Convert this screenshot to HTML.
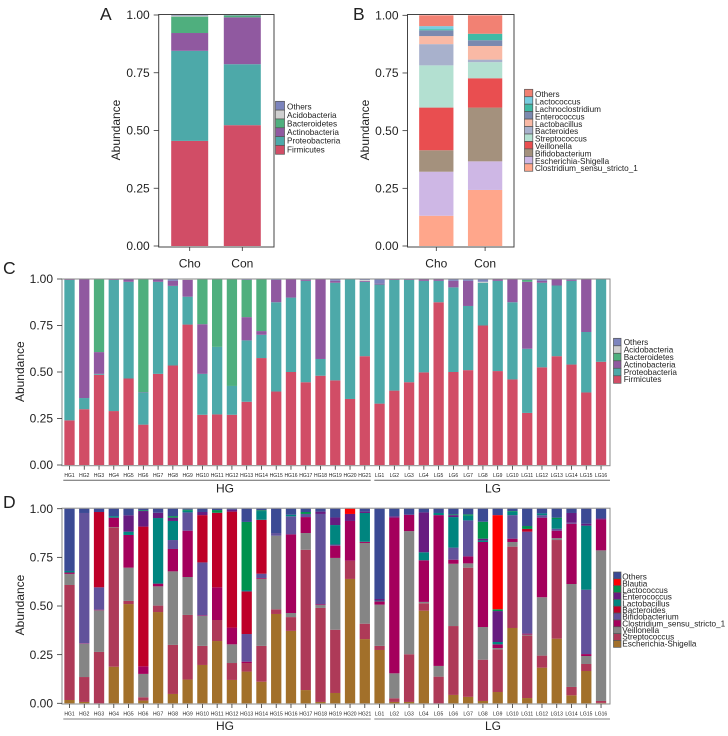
<!DOCTYPE html>
<html lang="en">
<head>
<meta charset="utf-8">
<title>Microbiota relative abundance stacked bars</title>
<style>
html,body{margin:0;padding:0;background:#fff;width:728px;height:736px;overflow:hidden}
svg{display:block}
text{font-family:"Liberation Sans",Arial,sans-serif;fill:#222}
</style>
</head>
<body>
<svg id="figure" xmlns="http://www.w3.org/2000/svg" width="728" height="736" viewBox="0 0 728 736"></svg>
<script>
/* ---------- Panel A data ---------- */
const groupsA = ["Cho", "Con"];
const phylumNamesA = ["Firmicutes", "Proteobacteria", "Actinobacteria", "Bacteroidetes", "Acidobacteria", "Others"];
const firmicutesA = [0.455, 0.523];
const proteobacteriaA = [0.390, 0.264];
const actinobacteriaA = [0.077, 0.203];
const bacteroidetesA = [0.071, 0.008];
const acidobacteriaA = [0.005, 0.001];
const othersA = [0.002, 0.001];

/* ---------- Panel B data ---------- */
const groupsB = ["Cho", "Con"];
const genusNamesB = ["Clostridium_sensu_stricto_1", "Escherichia-Shigella", "Bifidobacterium", "Veillonella", "Streptococcus", "Bacteroides", "Lactobacillus", "Enterococcus", "Lachnoclostridium", "Lactococcus", "Others"];
const clostridiumB = [0.131, 0.243];
const escherichiaB = [0.191, 0.124];
const bifidobacteriumB = [0.093, 0.233];
const veillonellaB = [0.185, 0.127];
const streptococcusB = [0.183, 0.070];
const bacteroidesB = [0.092, 0.011];
const lactobacillusB = [0.035, 0.059];
const enterococcusB = [0.025, 0.025];
const lachnoclostridiumB = [0.005, 0.028];
const lactococcusB = [0.013, 0.000];
const othersB = [0.047, 0.080];

/* ---------- Panels C and D shared sample labels ---------- */
const samples = ["HG1","HG2","HG3","HG4","HG5","HG6","HG7","HG8","HG9","HG10","HG11","HG12","HG13","HG14","HG15","HG16","HG17","HG18","HG19","HG20","HG21","LG1","LG2","LG3","LG4","LG5","LG6","LG7","LG8","LG9","LG10","LG11","LG12","LG13","LG14","LG15","LG16"];
const sampleGroups = ["HG", "LG"];
const abundanceTicks = [0, 0.25, 0.5, 0.75, 1];
const abundanceTickLabels = ["0.00", "0.25", "0.50", "0.75", "1.00"];

/* ---------- Panel C data ---------- */
const phylumNamesC = ["Firmicutes", "Proteobacteria", "Actinobacteria", "Bacteroidetes", "Acidobacteria", "Others"];
const firmicutesC = [.24,.30,.485,.29,.465,.217,.49,.535,.755,.27,.272,.27,.34,.575,.395,.50,.445,.48,.455,.355,.585,.33,.40,.445,.498,.875,.50,.51,.75,.505,.46,.28,.525,.585,.54,.39,.555];
const proteobacteriaC = [.755,.06,.005,.705,.52,.173,.495,.428,.15,.22,.363,.155,.33,.125,.48,.40,.545,.09,.525,.645,.40,.64,.595,.55,.492,.115,.455,.345,.23,.485,.415,.345,.455,.38,.45,.325,.445];
const actinobacteriaC = [.005,.64,.117,.005,.015,.002,.015,.027,.09,.267,0,0,.125,.02,.12,.10,.005,.43,.01,0,.005,.005,.005,.005,.01,.01,.035,.135,0,.01,.125,.36,.01,.035,.005,.285,0];
const bacteroidetesC = [0,0,.393,0,0,.608,0,0,0,.243,.365,.575,.2,.28,0,0,0,0,0,0,0,0,0,0,0,0,0,0,0,0,0,.01,0,0,0,0,0];
const acidobacteriaC = [0,0,0,0,0,0,0,0,.005,0,0,0,0,0,0,0,0,0,0,0,.005,0,0,0,0,0,0,0,.005,0,0,0,0,0,0,0,0];
const othersC = [0,0,0,0,0,0,0,.01,0,0,0,0,.005,0,.005,0,.005,0,.01,0,.005,.025,0,0,0,0,.01,.01,.015,0,0,.005,.01,0,.005,0,0];

/* ---------- Panel D data ---------- */
const genusNamesD = ["Escherichia-Shigella", "Streptococcus", "Veillonella", "Clostridium_sensu_stricto_1", "Bifidobacterium", "Bacteroides", "Lactobacillus", "Enterococcus", "Lactococcus", "Blautia", "Others"];
const escherichiaD = [.017,.007,0,.188,.51,.014,.469,.048,.122,.197,.32,.12,.163,.111,.459,.372,.068,.007,.053,.639,.33,.274,.007,.007,.476,0,.043,.033,.012,.058,.387,.027,.183,.332,.041,.166,.002];
const streptococcusD = [.591,.128,.264,.716,.016,.017,.033,.252,.332,.098,.108,.087,.044,.184,.024,.071,.721,.483,.325,.094,.079,.021,.019,.245,.038,.137,.354,.664,.212,.219,.418,.321,.062,.507,.043,.036,.01];
const veillonellaD = [.057,.171,.214,.002,.171,.12,.099,.378,.195,.154,0,.096,0,.345,.378,.021,.086,.015,.369,0,.415,.212,.128,.633,.007,.055,.32,.022,.168,.007,.024,.005,.30,.01,.529,.041,.774];
const clostridiumD = [.007,.002,.003,.048,.168,.039,.014,.115,.238,.003,.168,.086,.007,.004,0,.404,.082,.004,.063,.204,.006,.017,.80,.084,.214,.775,.021,.036,.437,.019,.017,.005,.409,.038,.31,.01,.159];
const bifidobacteriumD = [0,.67,.115,0,0,0,0,.046,.094,.272,0,0,.142,.022,.014,.093,.016,.464,.006,0,0,0,0,0,0,0,.062,.185,0,0,.121,.524,.013,.01,.005,.331,0];
const bacteroidesD = [0,0,.387,0,0,.718,0,0,0,.243,.383,.596,.219,.277,0,0,0,0,0,0,0,0,0,0,0,0,0,0,0,0,0,.014,0,0,0,0,0];
const lactobacillusD = [.008,0,0,.008,.017,0,.337,.098,.009,0,0,0,.007,.045,0,.008,0,0,.1,0,.148,.004,0,0,.041,.011,.157,.024,.008,.012,.018,0,.009,.05,0,.329,0];
const enterococcusD = [0,0,0,0,.084,.08,.027,.017,0,.016,0,.01,0,0,0,0,0,.012,.039,.036,.007,.008,.007,0,.205,0,.01,0,.009,.159,0,0,0,0,.05,.01,.005];
const lactococcusD = [0,0,0,0,0,.004,0,.008,.005,0,.014,0,.35,.004,0,0,.01,0,0,0,0,0,0,0,0,0,.004,.007,.087,.009,.003,.015,0,.007,0,0,0];
const blautiaD = [0,0,0,0,0,0,0,0,0,0,0,0,0,0,0,0,0,0,0,.027,0,0,0,0,0,0,0,0,0,.484,0,0,0,0,0,0,0];
const othersD = [.32,.022,.017,.038,.034,.008,.021,.038,.005,.017,.007,.005,.068,.008,.125,.031,.017,.015,.045,0,.015,.464,.039,.031,.019,.022,.029,.029,.067,.033,.012,.089,.024,.046,.022,.077,.05];

const phylumColors = ["#D14D66", "#4DA9A9", "#9059A0", "#4FAF7E", "#CFCFCF", "#7C84BD"];
const genusColorsB = ["#FFA68B", "#CEB7E5", "#A4917D", "#E94E50", "#B3E0D1", "#A8B1CC", "#F9B9A5", "#7B89AF", "#40BAA5", "#78CDE0", "#F28173"];
const genusColorsD = ["#A2702A", "#AE3A58", "#858585", "#A4005C", "#61529B", "#BE0028", "#00857F", "#671C80", "#00924E", "#FF0000", "#3B4A94"];

const svg = document.getElementById("figure");
const NS = "http://www.w3.org/2000/svg";

function make(parent, tag, attrs, content) {
  const el = document.createElementNS(NS, tag);
  for (const k in attrs) el.setAttribute(k, attrs[k]);
  if (content !== undefined) el.textContent = content;
  parent.appendChild(el);
  return el;
}

function drawPanel(cfg) {
  const g = make(svg, "g", {});
  
  

  const xScale = i => cfg.x0 + i * cfg.step;
  const yScale = v => cfg.yZero - v * (cfg.yZero - cfg.yOne);

  /* stacked bars */
  cfg.categories.forEach((cat, i) => {
    let cum = 0;
    cfg.series.forEach((values, s) => {
      const v = values[i];
      if (v > 0) {
        const r = make(g, "rect", {
          x: xScale(i) - cfg.barWidth / 2,
          y: yScale(cum + v),
          width: cfg.barWidth,
          height: yScale(cum) - yScale(cum + v),
          fill: cfg.colors[s]
        });
        
        
      }
      cum += v;
    });
  });

  /* frame */
  const frame = make(g, "rect", {
    x: cfg.frame[0], y: cfg.frame[1],
    width: cfg.frame[2] - cfg.frame[0], height: cfg.frame[3] - cfg.frame[1],
    fill: "none", stroke: cfg.frameColor, "stroke-width": 1
  });
  
  

  /* y axis */
  abundanceTicks.forEach((t, i) => {
    const tick = make(g, "line", {
      x1: cfg.frame[0] - 5, x2: cfg.frame[0], y1: yScale(t), y2: yScale(t),
      stroke: "#333", "stroke-width": 0.8
    });
    
    
    const lab = make(g, "text", {
      x: cfg.frame[0] - 9, y: yScale(t) + 4.2, "text-anchor": "end", "font-size": 12, fill: "#333"
    }, abundanceTickLabels[i]);
    
    
  });

  const yTitle = make(g, "text", {
    transform: "translate(" + cfg.titleX + "," + cfg.titleY + ") rotate(-90)",
    "text-anchor": "middle", "font-size": 12
  }, "Abundance");
  
  

  /* x axis */
  cfg.categories.forEach((cat, i) => {
    const tick = make(g, "line", {
      x1: xScale(i), x2: xScale(i), y1: cfg.frame[3], y2: cfg.frame[3] + 4,
      stroke: "#333", "stroke-width": 0.8
    });
    
    
    const lab = make(g, "text", {
      x: xScale(i), y: cfg.xLabelY, "text-anchor": "middle", "font-size": cfg.xLabelSize, fill: "#333"
    }, cat);
    
    
  });

  /* panel letter */
  const letter = make(g, "text", { x: cfg.letter[0], y: cfg.letter[1], "font-size": 17.5, fill: "#111" }, cfg.letter[2]);
  
  

  /* legend (top entry is the last series) */
  const n = cfg.names.length;
  for (let k = 0; k < n; k++) {
    const s = n - 1 - k;
    const key = make(g, "rect", {
      x: cfg.legend.x, y: cfg.legend.y + k * cfg.legend.keyH,
      width: cfg.legend.w, height: cfg.legend.keyH,
      fill: cfg.colors[s], stroke: "#555", "stroke-width": 0.7
    });
    
    
    const t = make(g, "text", {
      x: cfg.legend.textX, y: cfg.legend.textY + k * cfg.legend.textStep + 2.9,
      "font-size": 8.2, fill: "#333"
    }, cfg.names[s]);
    
    
  }

  /* sample-group brackets */
  if (cfg.brackets) {
    cfg.brackets.forEach((b, i) => {
      const line = make(g, "line", {
        x1: b[0], x2: b[1], y1: cfg.bracketY, y2: cfg.bracketY,
        stroke: cfg.bracketColor, "stroke-width": cfg.bracketWidth
      });
      
      
      const label = make(g, "text", {
        x: b[2], y: cfg.groupLabelY, "text-anchor": "middle", "font-size": 12
      }, sampleGroups[i]);
      
      
    });
  }
}

drawPanel({
  id: "a", categories: groupsA, names: phylumNamesA, colors: phylumColors,
  series: [firmicutesA, proteobacteriaA, actinobacteriaA, bacteroidetesA, acidobacteriaA, othersA],
  x0: 189.7, step: 52.6, barWidth: 37,
  yZero: 246, yOne: 15, frame: [158.7, 14.5, 274, 247], frameColor: "#444",
  titleX: 120, titleY: 130, xLabelY: 267.5, xLabelSize: 12, letter: [100, 20, "A"],
  legend: { x: 275.5, y: 101.3, w: 9, keyH: 8.83, textX: 287, textY: 106.7, textStep: 8.53 }
});

drawPanel({
  id: "b", categories: groupsB, names: genusNamesB, colors: genusColorsB,
  series: [clostridiumB, escherichiaB, bifidobacteriumB, veillonellaB, streptococcusB, bacteroidesB, lactobacillusB, enterococcusB, lachnoclostridiumB, lactococcusB, othersB],
  x0: 436.3, step: 48.8, barWidth: 34.3,
  yZero: 246, yOne: 15.3, frame: [407.5, 14.5, 514, 247], frameColor: "#444",
  titleX: 369, titleY: 130, xLabelY: 267.5, xLabelSize: 12, letter: [353, 20, "B"],
  legend: { x: 524.5, y: 89.3, w: 8.3, keyH: 7.45, textX: 535, textY: 94.3, textStep: 7.4 }
});

drawPanel({
  id: "c", categories: samples, names: phylumNamesC, colors: phylumColors,
  series: [firmicutesC, proteobacteriaC, actinobacteriaC, bacteroidetesC, acidobacteriaC, othersC],
  x0: 69.5, step: 14.765, barWidth: 10.3,
  yZero: 465, yOne: 279, frame: [62, 279, 610, 465.7], frameColor: "#888",
  titleX: 24, titleY: 371.7, xLabelY: 477, xLabelSize: 5, letter: [3, 274, "C"],
  legend: { x: 613.5, y: 338.3, w: 7.5, keyH: 7.5, textX: 623.7, textY: 342.3, textStep: 7.4 },
  brackets: [[63.3, 370.7, 225], [374.3, 610, 493]],
  bracketY: 480.3, bracketColor: "#666", bracketWidth: 1, groupLabelY: 492.5
});

drawPanel({
  id: "d", categories: samples, names: genusNamesD, colors: genusColorsD,
  series: [escherichiaD, streptococcusD, veillonellaD, clostridiumD, bifidobacteriumD, bacteroidesD, lactobacillusD, enterococcusD, lactococcusD, blautiaD, othersD],
  x0: 69.5, step: 14.765, barWidth: 10.3,
  yZero: 703.3, yOne: 508.7, frame: [62, 508.2, 610, 704], frameColor: "#888",
  titleX: 24, titleY: 605, xLabelY: 715.5, xLabelSize: 5, letter: [3, 508, "D"],
  legend: { x: 613.5, y: 572, w: 7.5, keyH: 6.85, textX: 622.3, textY: 576.7, textStep: 6.67 },
  brackets: [[63.3, 370.7, 225], [374.3, 610, 493]],
  bracketY: 719, bracketColor: "#aaa", bracketWidth: 1.5, groupLabelY: 730
});
</script>
</body>
</html>
